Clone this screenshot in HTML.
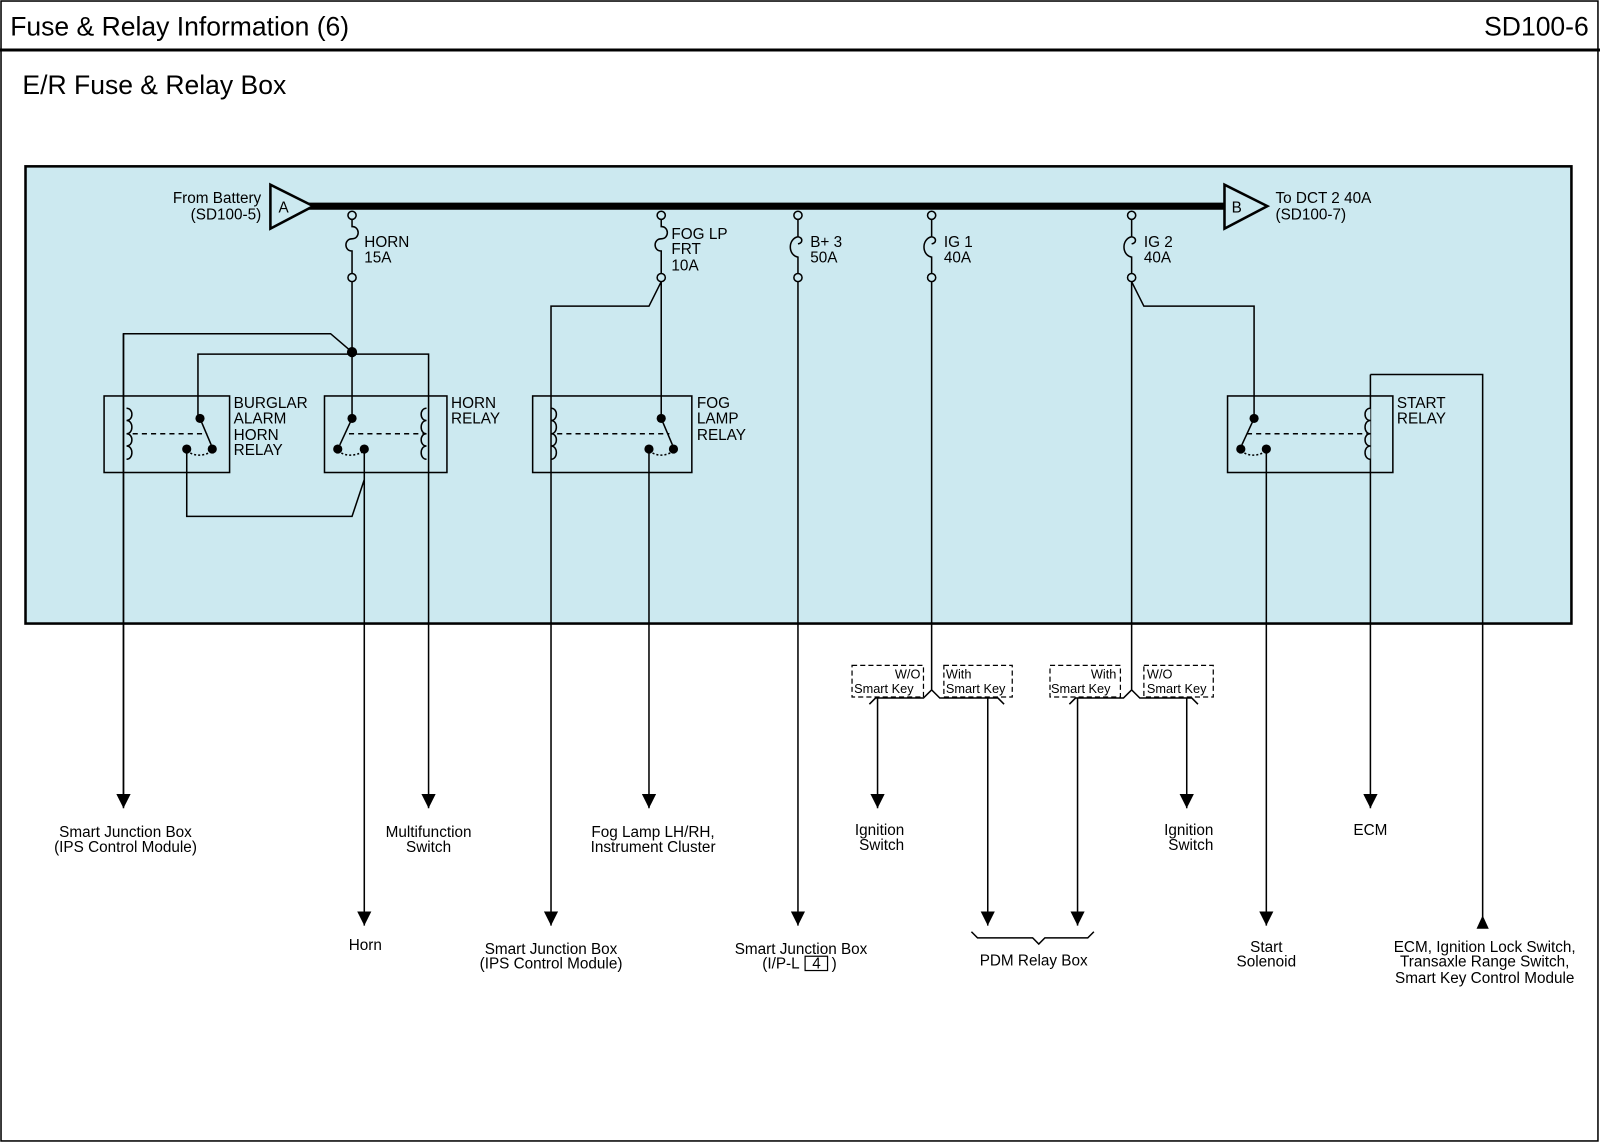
<!DOCTYPE html>
<html><head><meta charset="utf-8"><style>
html,body{margin:0;padding:0;background:#fff}
svg{display:block}
text{font-family:"Liberation Sans",Arial,sans-serif;fill:#000}
</style></head><body>
<svg width="1600" height="1143" viewBox="0 0 1568 1120" preserveAspectRatio="none" xmlns="http://www.w3.org/2000/svg">
<defs>
<marker id="ad" markerWidth="14" markerHeight="14" refX="12" refY="6" orient="auto" markerUnits="userSpaceOnUse" viewBox="0 0 12 12"><path d="M0,0 L12,6 L0,12 Z" fill="#000"/></marker>
</defs>
<rect x="1" y="1" width="1565" height="1117" fill="none" stroke="#000" stroke-width="1.5"/>
<text x="10" y="35" font-size="26">Fuse &amp; Relay Information (6)</text>
<text x="1557" y="35" font-size="26" text-anchor="end">SD100-6</text>
<line x1="0" y1="49" x2="1568" y2="49" stroke="#000" stroke-width="3"/>
<text x="22" y="92" font-size="26">E/R Fuse &amp; Relay Box</text>
<rect x="25" y="163" width="1515" height="448" fill="#cce9f0" stroke="#000" stroke-width="2.5"/>

<line x1="300" y1="202" x2="1202" y2="202" stroke="#000" stroke-width="7"/>
<polygon points="265,181 265,224 307,202" fill="#cce9f0" stroke="#000" stroke-width="2.5"/>
<text x="273" y="208" font-size="15">A</text>
<polygon points="1200,181 1200,224 1242,202" fill="#cce9f0" stroke="#000" stroke-width="2.5"/>
<text x="1207" y="208" font-size="15">B</text>
<g font-size="15">
<text x="256" y="199" text-anchor="end">From Battery</text>
<text x="256" y="215" text-anchor="end">(SD100-5)</text>
<text x="1250" y="199">To DCT 2 40A</text>
<text x="1250" y="215">(SD100-7)</text>
</g>

<g fill="none" stroke="#000" stroke-width="1.5">
<circle cx="345" cy="211" r="4"/><path d="M345,215 v7 c8,0 8,12 0,12 c-8,0 -8,12 0,12 v22"/><circle cx="345" cy="272" r="4"/>
<circle cx="648" cy="211" r="4"/><path d="M648,215 v7 c8,0 8,12 0,12 c-8,0 -8,12 0,12 v22"/><circle cx="648" cy="272" r="4"/>
<circle cx="782" cy="211" r="4"/><path d="M782,215 v17 c-10,2 -10,18 0,20 v16 M782,232 c5,1 5,6 0,7"/><circle cx="782" cy="272" r="4"/>
<circle cx="913" cy="211" r="4"/><path d="M913,215 v17 c-10,2 -10,18 0,20 v16 M913,232 c5,1 5,6 0,7"/><circle cx="913" cy="272" r="4"/>
<circle cx="1109" cy="211" r="4"/><path d="M1109,215 v17 c-10,2 -10,18 0,20 v16 M1109,232 c5,1 5,6 0,7"/><circle cx="1109" cy="272" r="4"/>

<line x1="345" y1="276" x2="345" y2="410"/>
<path d="M121,790 V327 H324 L345,345"/>
<path d="M194,410 V347 H420 V792" marker-end="url(#ad)"/>
<path d="M121,327 V792" marker-end="url(#ad)"/>
<rect x="102" y="388" width="123" height="75"/>
<rect x="318" y="388" width="120" height="75"/>
<path d="M124,400 c7,0 7,12 0,12 c7,0 7,13 0,13 c7,0 7,12 0,12 c7,0 7,13 0,13"/>
<path d="M418,400 c-7,0 -7,12 0,12 c-7,0 -7,13 0,13 c-7,0 -7,12 0,12 c-7,0 -7,13 0,13"/>
<line x1="130" y1="425" x2="203" y2="425" stroke-dasharray="5,4"/>
<line x1="342" y1="425" x2="416" y2="425" stroke-dasharray="5,4"/>
<line x1="196" y1="410" x2="207" y2="436"/>
<line x1="345" y1="410" x2="333" y2="436"/>
<path d="M183,442 q12,8 25,0" stroke-dasharray="2,2"/>
<path d="M331,442 q12,8 26,0" stroke-dasharray="2,2"/>
<path d="M183,440 V506 H345 L357,470"/>
<path d="M357,440 V907" marker-end="url(#ad)"/>

<path d="M648,276 L636,300 H540 V907" marker-end="url(#ad)"/>
<line x1="648" y1="276" x2="648" y2="410"/>
<rect x="522" y="388" width="156" height="75"/>
<path d="M540,400 c7,0 7,12 0,12 c7,0 7,13 0,13 c7,0 7,12 0,12 c7,0 7,13 0,13"/>
<line x1="546" y1="425" x2="656" y2="425" stroke-dasharray="5,4"/>
<line x1="648" y1="410" x2="659" y2="436"/>
<path d="M636,442 q12,8 24,0" stroke-dasharray="2,2"/>
<path d="M636,440 V792" marker-end="url(#ad)"/>

<path d="M782,276 V907" marker-end="url(#ad)"/>

<path d="M913,276 V676 L905,684 H858 L852,690"/>
<path d="M913,676 L921,684 H978 L984,690"/>
<path d="M860,684 V792" marker-end="url(#ad)"/>
<path d="M968,684 V907" marker-end="url(#ad)"/>
<path d="M1109,276 V676 L1101,684 H1054 L1048,690"/>
<path d="M1109,676 L1117,684 H1168 L1174,690"/>
<path d="M1056,684 V907" marker-end="url(#ad)"/>
<path d="M1163,684 V792" marker-end="url(#ad)"/>
<path d="M1109,276 L1121,300 H1229 V410"/>
<rect x="1203" y="388" width="162" height="75"/>
<path d="M1343,367 H1453 V905"/>
<path d="M1453,897 l-6,13 h12 z" fill="#000" stroke="none"/>
<path d="M1343,367 V792" marker-end="url(#ad)"/>
<path d="M1343,400 c-7,0 -7,12 0,12 c-7,0 -7,13 0,13 c-7,0 -7,12 0,12 c-7,0 -7,13 0,13" fill="#cce9f0"/>
<line x1="1222" y1="425" x2="1340" y2="425" stroke-dasharray="5,4"/>
<line x1="1229" y1="410" x2="1217" y2="436"/>
<path d="M1216,442 q12,8 25,0" stroke-dasharray="2,2"/>
<path d="M1241,440 V907" marker-end="url(#ad)"/>

<g stroke-width="1.2" stroke-dasharray="5,3">
<rect x="835" y="652" width="70" height="31"/>
<rect x="925" y="652" width="67" height="31"/>
<rect x="1029" y="652" width="69" height="31"/>
<rect x="1121" y="652" width="68" height="31"/>
</g>
<path d="M952,913 L958,919 H1012 L1018,925 L1024,919 H1066 L1072,913"/>
</g>

<g fill="#000">
<circle cx="345" cy="345" r="5"/>
<circle cx="196" cy="410" r="4.5"/><circle cx="183" cy="440" r="4.5"/><circle cx="208" cy="440" r="4.5"/>
<circle cx="345" cy="410" r="4.5"/><circle cx="331" cy="440" r="4.5"/><circle cx="357" cy="440" r="4.5"/>
<circle cx="648" cy="410" r="4.5"/><circle cx="636" cy="440" r="4.5"/><circle cx="660" cy="440" r="4.5"/>
<circle cx="1229" cy="410" r="4.5"/><circle cx="1216" cy="440" r="4.5"/><circle cx="1241" cy="440" r="4.5"/>
</g>

<g font-size="15">
<text x="357" y="242">HORN</text><text x="357" y="257">15A</text>
<text x="658" y="234">FOG LP</text><text x="658" y="249">FRT</text><text x="658" y="265">10A</text>
<text x="794" y="242">B+ 3</text><text x="794" y="257">50A</text>
<text x="925" y="242">IG 1</text><text x="925" y="257">40A</text>
<text x="1121" y="242">IG 2</text><text x="1121" y="257">40A</text>
<text x="229" y="400">BURGLAR</text><text x="229" y="415">ALARM</text><text x="229" y="431">HORN</text><text x="229" y="446">RELAY</text>
<text x="442" y="400">HORN</text><text x="442" y="415">RELAY</text>
<text x="683" y="400">FOG</text><text x="683" y="415">LAMP</text><text x="683" y="431">RELAY</text>
<text x="1369" y="400">START</text><text x="1369" y="415">RELAY</text>
</g>
<g font-size="12.5">
<text x="902" y="665" text-anchor="end">W/O</text><text x="837" y="679">Smart Key</text>
<text x="927" y="665">With</text><text x="927" y="679">Smart Key</text>
<text x="1094" y="665" text-anchor="end">With</text><text x="1030" y="679">Smart Key</text>
<text x="1124" y="665">W/O</text><text x="1124" y="679">Smart Key</text>
</g>
<g font-size="15" text-anchor="middle">
<text x="123" y="820">Smart Junction Box</text><text x="123" y="835">(IPS Control Module)</text>
<text x="420" y="820">Multifunction</text><text x="420" y="835">Switch</text>
<text x="640" y="820">Fog Lamp LH/RH,</text><text x="640" y="835">Instrument Cluster</text>
<text x="862" y="818">Ignition</text><text x="864" y="833">Switch</text>
<text x="1165" y="818">Ignition</text><text x="1167" y="833">Switch</text>
<text x="1343" y="818">ECM</text>
<text x="358" y="931">Horn</text>
<text x="540" y="935">Smart Junction Box</text><text x="540" y="949">(IPS Control Module)</text>
<text x="785" y="935">Smart Junction Box</text>
<text x="1013" y="946">PDM Relay Box</text>
<text x="1241" y="933">Start</text><text x="1241" y="947">Solenoid</text>
<text x="1455" y="933">ECM, Ignition Lock Switch,</text><text x="1455" y="947">Transaxle Range Switch,</text><text x="1455" y="963">Smart Key Control Module</text>
</g>
<g font-size="15">
<text x="747" y="949">(I/P-L</text>
<rect x="789" y="937" width="22" height="14" fill="none" stroke="#000" stroke-width="1.2"/>
<text x="796" y="949">4</text>
<text x="815" y="949">)</text>
</g>
</svg>
</body></html>
